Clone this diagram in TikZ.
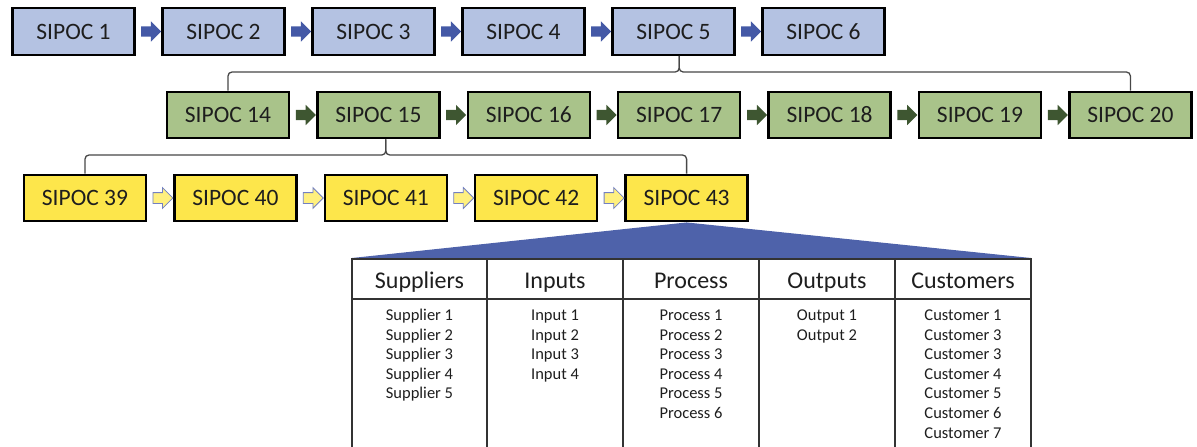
\documentclass[tikz,border=0pt]{standalone}
\usepackage{fontspec}
\setmainfont{Carlito}
\usetikzlibrary{shapes.arrows,calc}
\definecolor{bluefill}{HTML}{B4C2E2}
\definecolor{greenfill}{HTML}{A9C38A}
\definecolor{yellowfill}{HTML}{FDE64B}
\definecolor{bluearr}{HTML}{4459A6}
\definecolor{greenarr}{HTML}{3E5631}
\definecolor{yelarr}{HTML}{FFF07E}
\definecolor{yelarrline}{HTML}{7380C2}
\definecolor{tri}{HTML}{4E62AA}
\definecolor{txt}{HTML}{1E1E1E}
\definecolor{gridc}{HTML}{333333}
\begin{document}
\begin{tikzpicture}[x=1pt,y=-1pt,
  sbox/.style={draw=black, line width=2.4pt, minimum width=122pt, minimum height=46.5pt,
    inner sep=0pt, text=txt, font=\fontsize{23.5}{28}\selectfont},
  bbox/.style={sbox, fill=bluefill},
  gbox/.style={sbox, fill=greenfill},
  ybox/.style={sbox, fill=yellowfill},
  arr/.style={single arrow, minimum height=20pt, minimum width=20pt, inner sep=5pt,
    single arrow head extend=5pt, single arrow tip angle=90, anchor=center},
  barr/.style={arr, fill=bluearr, draw=none},
  garr/.style={arr, fill=greenarr, draw=none},
  yarr/.style={arr, fill=yelarr, draw=yelarrline, line width=0.8pt},
  brk/.style={draw=gridc!90, line width=1.3pt, rounded corners=4pt},
  grid/.style={draw=gridc, line width=1.4pt},
  head/.style={anchor=base, text=txt, font=\fontsize{24}{28}\selectfont},
  item/.style={anchor=base, text=txt, font=\fontsize{16.5}{19.6}\selectfont},
]
\useasboundingbox (0,0) rectangle (1197,447);
\clip (0,0) rectangle (1197,447);

% row 1
\foreach \n [count=\i from 0] in {1,2,3,4,5,6}
  \node[bbox] (c\n) at (73.5+150*\i, 31.5) {SIPOC \n};
% row 2
\foreach \n [count=\i from 0] in {14,15,16,17,18,19,20}
  \node[gbox] (c\n) at (228+150.4*\i, 115) {SIPOC \n};
% row 3
\foreach \n [count=\i from 0] in {39,40,41,42,43}
  \node[ybox] (c\n) at (85+150.4*\i, 198) {SIPOC \n};

% block arrows
\foreach \a/\b in {1/2,2/3,3/4,4/5,5/6}
  \node[barr] (a\a) at ($(c\a.east)!0.5!(c\b.west)$) {};
\foreach \a/\b in {14/15,15/16,16/17,17/18,18/19,19/20}
  \node[garr] (a\a) at ($(c\a.east)!0.5!(c\b.west)$) {};
\foreach \a/\b in {39/40,40/41,41/42,42/43}
  \node[yarr] (a\a) at ($(c\a.east)!0.5!(c\b.west)$) {};

% brackets
\coordinate (h1) at (0,72);
\coordinate (m1) at ($(c14.north)!0.5!(c20.north)$);
\draw[brk] (c14.north) |- (m1 |- h1) -- (m1 |- c5.south);
\draw[brk] (c20.north) |- (m1 |- h1) -- (m1 |- c5.south);
\coordinate (h2) at (0,155);
\coordinate (m2) at ($(c39.north)!0.5!(c43.north)$);
\draw[brk] (c39.north) |- (m2 |- h2) -- (m2 |- c15.south);
\draw[brk] (c43.north) |- (m2 |- h2) -- (m2 |- c15.south);

% expansion triangle
\coordinate (tl) at (352,258);
\coordinate (tr) at (1031,258);
\fill[tri] (c43.south) -- (tl) -- (tr) -- cycle;

% table grid
\draw[grid] (352,470) -- (352,259) -- (1031,259) -- (1031,470);
\draw[grid] (352,299) -- (1031,299);
\foreach \x in {487,623,759,895}
  \draw[grid] (\x,259) -- (\x,470);

% headers
\node[head] (hS) at (419.5,288) {Suppliers};
\node[head] (hI) at (555,288) {Inputs};
\node[head] (hP) at (691,288) {Process};
\node[head] (hO) at (827,288) {Outputs};
\node[head] (hC) at (963,288) {Customers};

% items
\foreach \t [count=\k from 0] in {Supplier 1,Supplier 2,Supplier 3,Supplier 4,Supplier 5}
  \node[item] (s\k) at (419.5,320.5+19.6*\k) {\t};
\foreach \t [count=\k from 0] in {Input 1,Input 2,Input 3,Input 4}
  \node[item] (i\k) at (555,320.5+19.6*\k) {\t};
\foreach \t [count=\k from 0] in {Process 1,Process 2,Process 3,Process 4,Process 5,Process 6}
  \node[item] (p\k) at (691,320.5+19.6*\k) {\t};
\foreach \t [count=\k from 0] in {Output 1,Output 2}
  \node[item] (o\k) at (827,320.5+19.6*\k) {\t};
\foreach \t [count=\k from 0] in {Customer 1,Customer 3,Customer 3,Customer 4,Customer 5,Customer 6,Customer 7}
  \node[item] (u\k) at (963,320.5+19.6*\k) {\t};
\end{tikzpicture}
\end{document}
